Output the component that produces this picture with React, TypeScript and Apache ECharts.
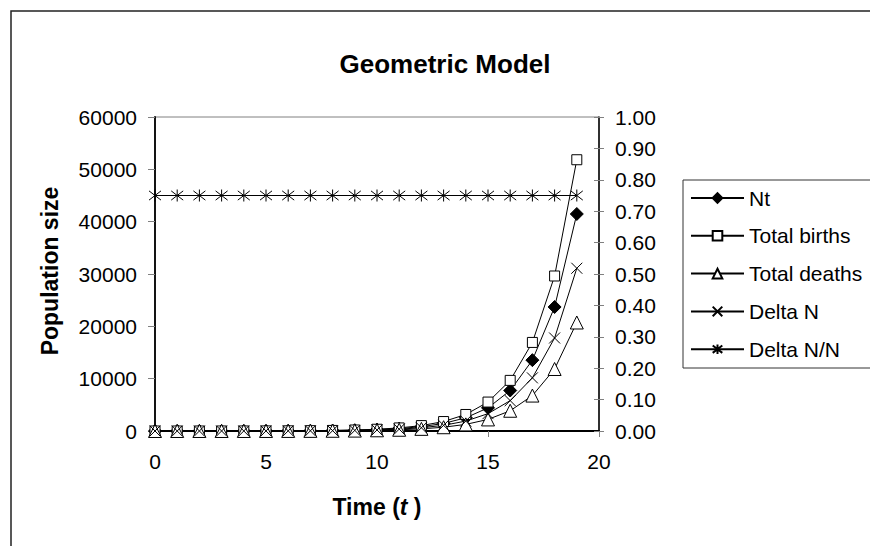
import React, { useEffect, useRef } from 'react';
import * as echarts from 'echarts';

const timeSteps = [0, 1, 2, 3, 4, 5, 6, 7, 8, 9, 10, 11, 12, 13, 14, 15, 16, 17, 18, 19];
const nt = [1, 1.75, 3.06, 5.36, 9.38, 16.4, 28.7, 50.3, 88, 154, 269, 471, 825, 1444, 2527, 4421, 7737, 13540, 23695, 41467];
const totalBirths = [1.25, 2.19, 3.83, 6.7, 11.7, 20.5, 35.9, 62.8, 110, 192, 337, 589, 1031, 1805, 3158, 5527, 9672, 16925, 29619, 51834];
const totalDeaths = [0.5, 0.88, 1.53, 2.68, 4.69, 8.2, 14.4, 25.1, 44, 77, 135, 236, 412, 722, 1263, 2211, 3869, 6770, 11848, 20734];
const deltaN = [0.75, 1.31, 2.3, 4.02, 7.04, 12.3, 21.5, 37.7, 66, 115, 202, 353, 619, 1083, 1895, 3316, 5803, 10155, 17771, 31100];
const deltaNPerN = [0.75, 0.75, 0.75, 0.75, 0.75, 0.75, 0.75, 0.75, 0.75, 0.75, 0.75, 0.75, 0.75, 0.75, 0.75, 0.75, 0.75, 0.75, 0.75, 0.75];
const seriesNames = ['Nt', 'Total births', 'Total deaths', 'Delta N', 'Delta N/N'];
const titleText = 'Geometric Model';
const yAxisTitle = 'Population size';

const FONT = "'Liberation Sans', Arial, Helvetica, sans-serif";
const CROSS = 'path://M0,0L10,10M10,0L0,10';
const STAR = 'path://M0,0L10,10M10,0L0,10M5,-1.5L5,11.5';

const pairs = (vals: number[]) => timeSteps.map((t, i) => [t, vals[i]]);

export default function App() {
  const ref = useRef<HTMLDivElement>(null);
  useEffect(() => {
    document.body.style.margin = '0';
    const chart = echarts.init(ref.current!, null, { renderer: 'svg' });
    const baseLine = { color: '#000', width: 1 };
    const mk = (name: string, data: number[], symbol: string, size: number, fill: string, yIdx = 0) => ({
      name,
      type: 'line',
      yAxisIndex: yIdx,
      data: pairs(data),
      symbol,
      symbolSize: size,
      showAllSymbol: true,
      lineStyle: baseLine,
      itemStyle: { color: fill, borderColor: '#000', borderWidth: 1 },
      emphasis: { disabled: true },
      z: 3,
    });
    chart.setOption({
      animation: false,
      backgroundColor: '#fff',
      textStyle: { fontFamily: FONT },
      grid: { left: 155, right: 271, top: 117, bottom: 115, show: true, borderColor: '#808080', borderWidth: 1 },
      xAxis: {
        type: 'value',
        min: 0,
        max: 20,
        interval: 5,
        axisLine: { lineStyle: { color: '#000', width: 1.8 } },
        axisTick: { show: true, length: 6, lineStyle: { color: '#808080' } },
        splitLine: { show: false },
        axisLabel: { fontSize: 21, color: '#000', margin: 20, fontFamily: FONT },
      },
      yAxis: [
        {
          type: 'value',
          min: 0,
          max: 60000,
          interval: 10000,
          position: 'left',
          axisLine: { show: true, lineStyle: { color: '#000', width: 1.8 } },
          axisTick: { show: true, length: 7, lineStyle: { color: '#808080' } },
          splitLine: { show: false },
          axisLabel: { fontSize: 21, color: '#000', margin: 18, fontFamily: FONT, formatter: (v: number) => String(v) },
        },
        {
          type: 'value',
          min: 0,
          max: 1,
          interval: 0.1,
          position: 'right',
          axisLine: { show: true, lineStyle: { color: '#000', width: 1.5 } },
          axisTick: { show: true, length: 5, lineStyle: { color: '#808080' } },
          splitLine: { show: false },
          axisLabel: { fontSize: 21, color: '#000', margin: 16, fontFamily: FONT, formatter: (v: number) => v.toFixed(2) },
        },
        {
          type: 'value',
          min: 0,
          max: 1,
          interval: 0.1,
          position: 'right',
          axisLine: { show: false },
          axisTick: { show: true, inside: true, length: 5, lineStyle: { color: '#808080' } },
          splitLine: { show: false },
          axisLabel: { show: false },
        },
      ],
      legend: {
        orient: 'vertical',
        left: 690,
        top: 187.5,
        padding: 0,
        itemWidth: 53,
        itemHeight: 12,
        itemGap: 16.8,
        data: seriesNames,
        textStyle: { fontSize: 21, color: '#000', fontFamily: FONT },
        selectedMode: false,
      },
      graphic: [
        {
          type: 'rect',
          shape: { x: 11, y: 11, width: 1000, height: 1000 },
          style: { fill: 'none', stroke: '#222', lineWidth: 1.5 },
          silent: true,
        },
        {
          type: 'rect',
          shape: { x: 683, y: 180, width: 300, height: 188 },
          style: { fill: 'none', stroke: '#333', lineWidth: 1 },
          silent: true,
        },
        {
          type: 'text',
          x: 445,
          y: 64,
          style: { text: titleText, font: `bold 26px ${FONT}`, fill: '#000', align: 'center', verticalAlign: 'middle' },
        },
        {
          type: 'text',
          x: 50,
          y: 271,
          rotation: Math.PI / 2,
          style: { text: yAxisTitle, font: `bold 23px ${FONT}`, fill: '#000', align: 'center', verticalAlign: 'middle' },
        },
        {
          type: 'text',
          x: 377,
          y: 507,
          style: {
            text: '{a|Time (}{b|t}{a| )}',
            align: 'center',
            verticalAlign: 'middle',
            rich: {
              a: { fontFamily: FONT, fontWeight: 'bold', fontSize: 23, fill: '#000' },
              b: { fontFamily: FONT, fontWeight: 'bold', fontStyle: 'italic', fontSize: 23, fill: '#000' },
            },
          },
        },
      ],
      series: [
        mk(seriesNames[0], nt, 'diamond', 13, '#000'),
        mk(seriesNames[1], totalBirths, 'rect', 10, '#fff'),
        mk(seriesNames[2], totalDeaths, 'triangle', 13, '#fff'),
        mk(seriesNames[3], deltaN, CROSS, 11, '#000'),
        mk(seriesNames[4], deltaNPerN, STAR, 12, '#000', 1),
      ],
    });
    return () => chart.dispose();
  }, []);
  return <div ref={ref} style={{ width: 870, height: 546 }} />;
}
